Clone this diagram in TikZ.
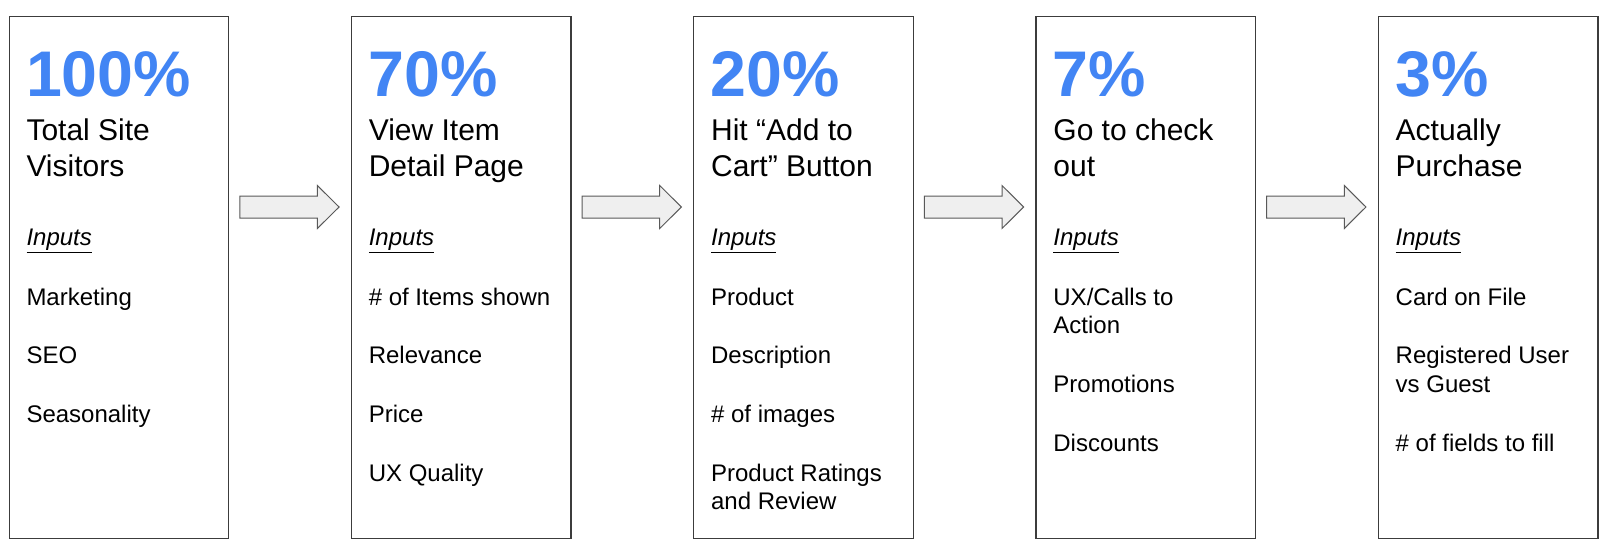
\documentclass[tikz,border=0pt]{standalone}
\usepackage{fontspec}
\setmainfont{Liberation Sans}
\usetikzlibrary{calc}
\definecolor{pctblue}{HTML}{4285F4}
\definecolor{boxgray}{HTML}{3C3C3C}
\definecolor{arrfill}{HTML}{EFEFEF}
\definecolor{arrline}{HTML}{595959}
\tikzset{
  panel/.style={draw=boxgray, line width=1.3pt, fill=white, minimum width=219.5pt, minimum height=522pt, anchor=north west, inner sep=0pt},
  txt/.style={anchor=base west, inner sep=0pt, outer sep=0pt, text=black},
  pct/.style={txt, text=pctblue, font=\fontsize{64.5}{70}\selectfont\bfseries},
  ttl/.style={txt, font=\fontsize{30}{36.7}\selectfont},
  inp/.style={txt, font=\fontsize{24}{28.6}\selectfont\itshape},
  itm/.style={txt, font=\fontsize{24}{28.6}\selectfont},
  blockarrow/.style={draw=arrline, line width=1pt, fill=arrfill, line join=miter}
}
\begin{document}
\begin{tikzpicture}[x=1pt,y=1pt]
\useasboundingbox (0,0) rectangle (1600,-557);
% boxes
\node[panel] (b1) at (8.5,-16) {};
\node[panel] (b2) at (350.8,-16) {};
\node[panel] (b3) at (693.1,-16) {};
\node[panel] (b4) at (1035.4,-16) {};
\node[panel] (b5) at (1377.7,-16) {};
% arrows
\foreach \i in {1,2,3,4}{
  \coordinate (a\i) at ({8.5+342.3*(\i-1)+280.9},-207);
  \draw[blockarrow] (a\i) ++(-49.65,11) -- ++(77.65,0) -- ++(0,10.5) -- ++(21.65,-21.5) -- ++(-21.65,-21.5) -- ++(0,10.5) -- ++(-77.65,0) -- cycle;
}
% box 1
\node[pct] (p1) at ($(b1.north west)+(17.5,-80.7)$) {100\%};
\node[ttl] (t1a) at ($(b1.north west)+(18,-124)$) {Total Site};
\node[ttl] (t1b) at ($(b1.north west)+(18,-160.7)$) {Visitors};
\node[inp] (i1) at ($(b1.north west)+(18,-229.7)$) {\underline{Inputs}};
\node[itm] (c1a) at ($(b1.north west)+(18,-289)$) {Marketing};
\node[itm] (c1b) at ($(b1.north west)+(18,-347.7)$) {SEO};
\node[itm] (c1c) at ($(b1.north west)+(18,-406.4)$) {Seasonality};
% box 2
\node[pct] (p2) at ($(b2.north west)+(17.5,-80.7)$) {70\%};
\node[ttl] (t2a) at ($(b2.north west)+(18,-124)$) {View Item};
\node[ttl] (t2b) at ($(b2.north west)+(18,-160.7)$) {Detail Page};
\node[inp] (i2) at ($(b2.north west)+(18,-229.7)$) {\underline{Inputs}};
\node[itm] (c2a) at ($(b2.north west)+(18,-289)$) {\# of Items shown};
\node[itm] (c2b) at ($(b2.north west)+(18,-347.7)$) {Relevance};
\node[itm] (c2c) at ($(b2.north west)+(18,-406.4)$) {Price};
\node[itm] (c2d) at ($(b2.north west)+(18,-465.1)$) {UX Quality};
% box 3
\node[pct] (p3) at ($(b3.north west)+(17.5,-80.7)$) {20\%};
\node[ttl] (t3a) at ($(b3.north west)+(18,-124)$) {Hit “Add to};
\node[ttl] (t3b) at ($(b3.north west)+(18,-160.7)$) {Cart” Button};
\node[inp] (i3) at ($(b3.north west)+(18,-229.7)$) {\underline{Inputs}};
\node[itm] (c3a) at ($(b3.north west)+(18,-289)$) {Product};
\node[itm] (c3b) at ($(b3.north west)+(18,-347.7)$) {Description};
\node[itm] (c3c) at ($(b3.north west)+(18,-406.4)$) {\# of images};
\node[itm] (c3d) at ($(b3.north west)+(18,-465.1)$) {Product Ratings};
\node[itm] (c3e) at ($(b3.north west)+(18,-493.7)$) {and Review};
% box 4
\node[pct] (p4) at ($(b4.north west)+(17.5,-80.7)$) {7\%};
\node[ttl] (t4a) at ($(b4.north west)+(18,-124)$) {Go to check};
\node[ttl] (t4b) at ($(b4.north west)+(18,-160.7)$) {out};
\node[inp] (i4) at ($(b4.north west)+(18,-229.7)$) {\underline{Inputs}};
\node[itm] (c4a) at ($(b4.north west)+(18,-289)$) {UX/Calls to};
\node[itm] (c4b) at ($(b4.north west)+(18,-317.6)$) {Action};
\node[itm] (c4c) at ($(b4.north west)+(18,-376.3)$) {Promotions};
\node[itm] (c4d) at ($(b4.north west)+(18,-435)$) {Discounts};
% box 5
\node[pct] (p5) at ($(b5.north west)+(17.5,-80.7)$) {3\%};
\node[ttl] (t5a) at ($(b5.north west)+(18,-124)$) {Actually};
\node[ttl] (t5b) at ($(b5.north west)+(18,-160.7)$) {Purchase};
\node[inp] (i5) at ($(b5.north west)+(18,-229.7)$) {\underline{Inputs}};
\node[itm] (c5a) at ($(b5.north west)+(18,-289)$) {Card on File};
\node[itm] (c5b) at ($(b5.north west)+(18,-347.7)$) {Registered User};
\node[itm] (c5c) at ($(b5.north west)+(18,-376.3)$) {vs Guest};
\node[itm] (c5d) at ($(b5.north west)+(18,-435)$) {\# of fields to fill};
\end{tikzpicture}
\end{document}
